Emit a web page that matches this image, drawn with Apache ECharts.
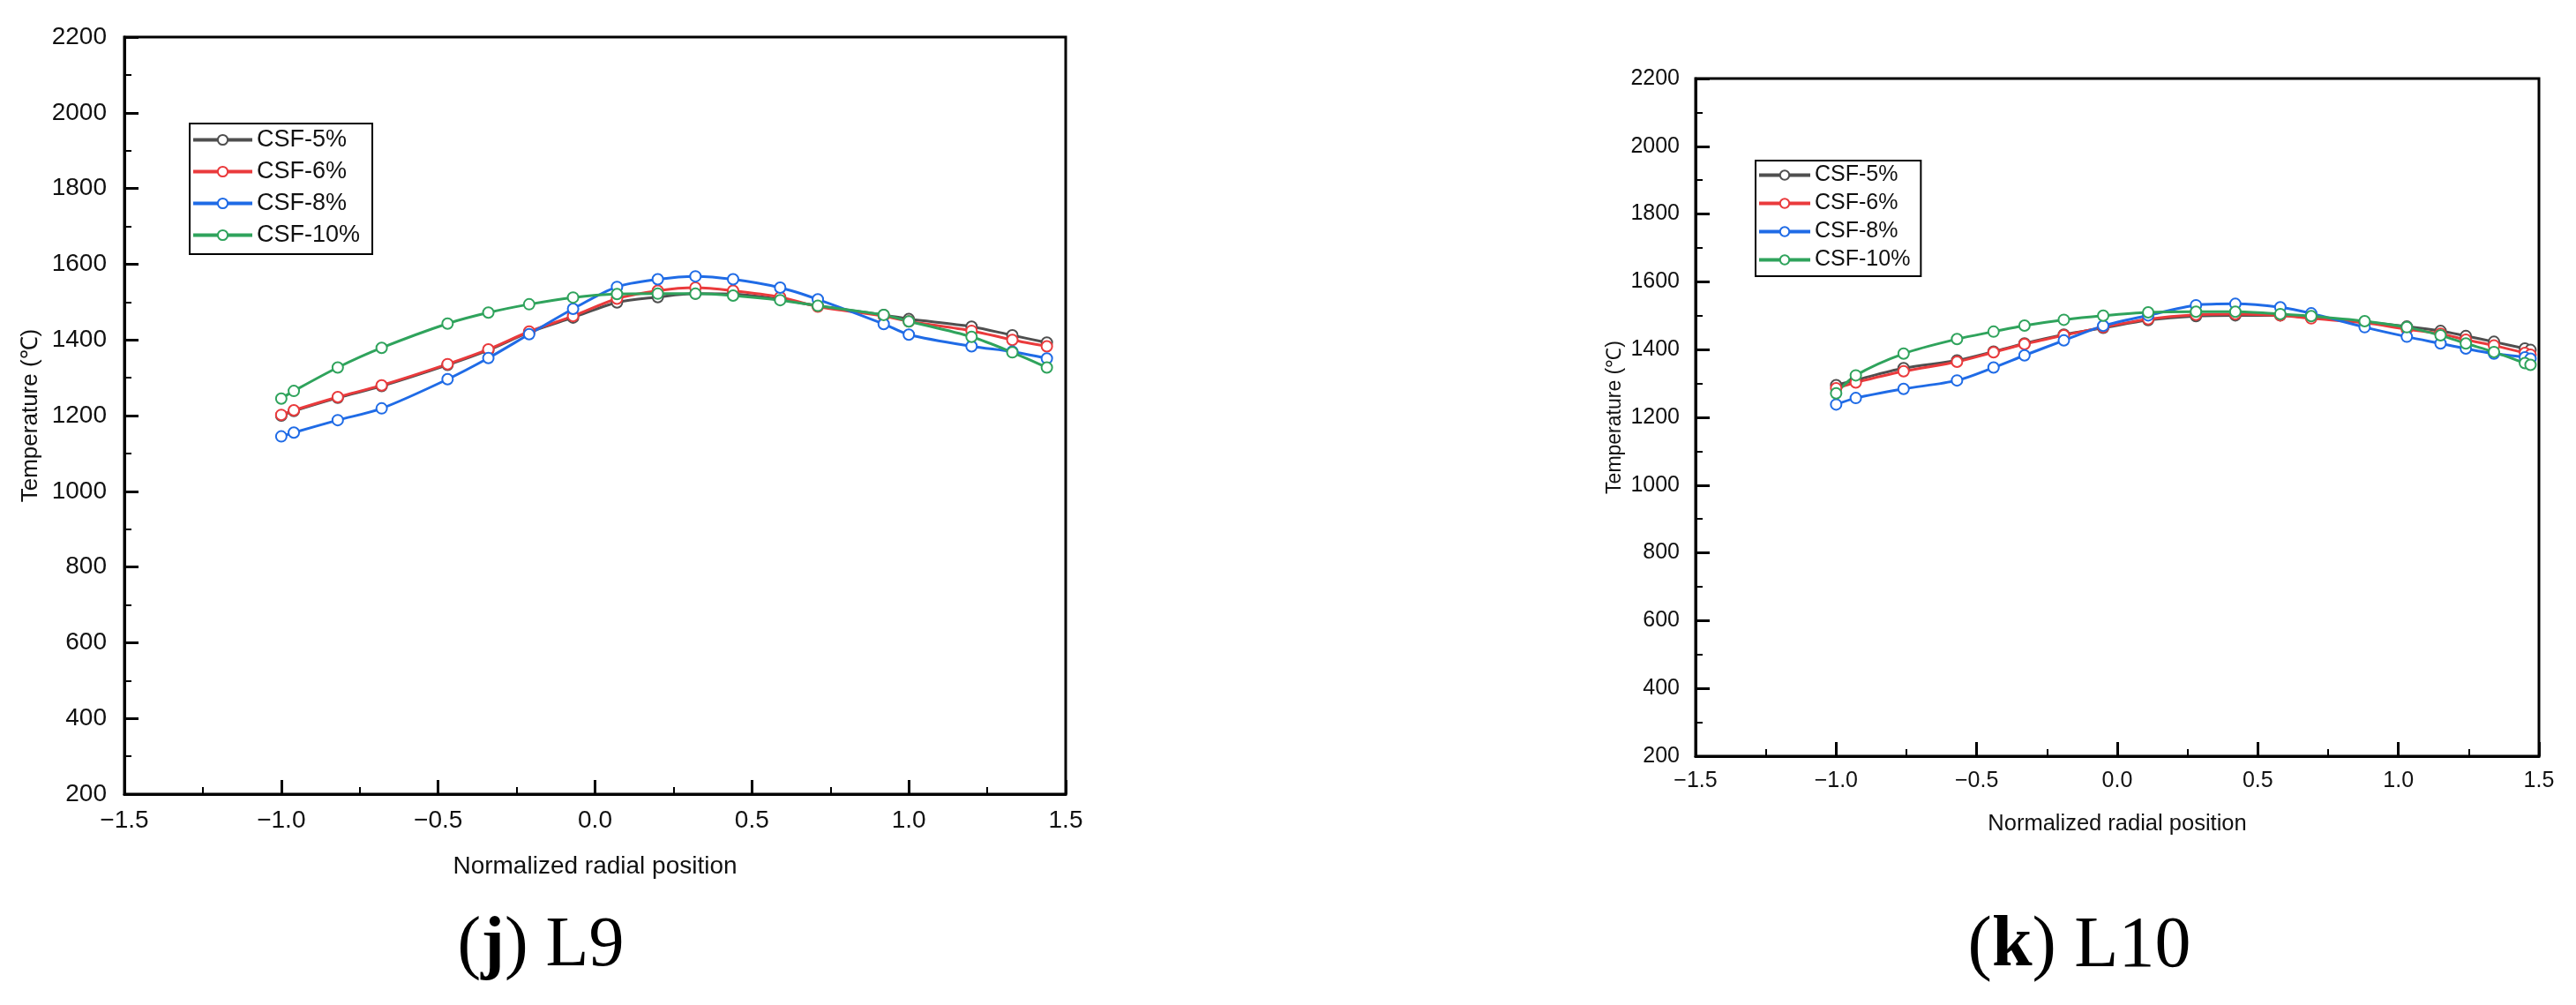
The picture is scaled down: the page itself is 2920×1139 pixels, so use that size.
<!DOCTYPE html>
<html>
<head>
<meta charset="utf-8">
<script src="https://cdn.jsdelivr.net/npm/echarts@6/dist/echarts.min.js"></script>
<style>
  html, body { margin: 0; padding: 0; background: #fff; }
  #chart { width: 2920px; height: 1139px; }
</style>
</head>
<body>
<div id="chart"></div>
<script>
// series names
var seriesNames = ["CSF-5%", "CSF-6%", "CSF-8%", "CSF-10%"];
var seriesColors = ["#4f4f4f", "#ea3a3c", "#1f6be6", "#2fa35c"];

// (j) L9 - radial positions and temperatures
var xL9 = [-1.0, -0.96, -0.82, -0.68, -0.47, -0.34, -0.21, -0.07, 0.07, 0.2, 0.32, 0.44, 0.59, 0.71, 0.92, 1.0, 1.2, 1.33, 1.44];
var l9Csf5 = [1200, 1212, 1247, 1278, 1334, 1373, 1420, 1459, 1499, 1513, 1522, 1521, 1507, 1490, 1466, 1455, 1435, 1412, 1393];
var l9Csf6 = [1202, 1214, 1249, 1280, 1336, 1375, 1422, 1463, 1509, 1530, 1538, 1530, 1513, 1488, 1463, 1449, 1424, 1400, 1383];
var l9Csf8 = [1145, 1155, 1188, 1219, 1296, 1352, 1415, 1482, 1540, 1560, 1568, 1560, 1538, 1507, 1442, 1414, 1383, 1369, 1351];
var l9Csf10 = [1245, 1265, 1327, 1379, 1443, 1472, 1494, 1512, 1521, 1522, 1522, 1517, 1505, 1490, 1466, 1449, 1408, 1367, 1327];

// (k) L10
var xL10 = [-1.0, -0.93, -0.76, -0.57, -0.44, -0.33, -0.19, -0.05, 0.11, 0.28, 0.42, 0.58, 0.69, 0.88, 1.03, 1.15, 1.24, 1.34, 1.45, 1.47];
var l10Csf5 = [1295, 1310, 1345, 1368, 1394, 1418, 1444, 1464, 1487, 1499, 1501, 1501, 1494, 1481, 1468, 1455, 1440, 1423, 1403, 1399];
var l10Csf6 = [1286, 1303, 1336, 1364, 1392, 1416, 1442, 1466, 1490, 1503, 1505, 1501, 1492, 1479, 1460, 1447, 1429, 1412, 1390, 1385];
var l10Csf8 = [1238, 1257, 1284, 1309, 1347, 1383, 1427, 1470, 1501, 1531, 1535, 1525, 1507, 1466, 1438, 1418, 1403, 1388, 1377, 1373];
var l10Csf10 = [1271, 1324, 1388, 1431, 1453, 1471, 1488, 1500, 1510, 1512, 1512, 1505, 1499, 1484, 1466, 1442, 1418, 1393, 1360, 1355];

var captions = ["L9", "L10"];
var captionLetters = ["j", "k"];

var font = "'Liberation Sans', Arial, sans-serif";

function zip(xs, ys) {
  return xs.map(function (x, i) { return [x, ys[i]]; });
}

function xFmt(v) {
  return (v < 0 ? "\u2212" : "") + Math.abs(v).toFixed(1);
}

function makeX(idx, fs, nameGap, nameFs) {
  return {
    gridIndex: idx,
    type: "value",
    min: -1.5,
    max: 1.5,
    interval: 0.5,
    name: "Normalized radial position",
    nameLocation: "middle",
    nameGap: nameGap,
    nameTextStyle: { fontFamily: font, fontSize: nameFs, color: "#111" },
    axisLine: { onZero: false, lineStyle: { color: "#000", width: 3 } },
    axisTick: { inside: true, length: 16, lineStyle: { color: "#000", width: 3 } },
    minorTick: { show: true, splitNumber: 2, length: 8, lineStyle: { color: "#000", width: 2 } },
    splitLine: { show: false },
    axisLabel: { fontFamily: font, fontSize: fs, color: "#111", margin: 16, formatter: xFmt }
  };
}

function makeY(idx, fs, nameGap, nameFs, margin) {
  return {
    gridIndex: idx,
    type: "value",
    min: 200,
    max: 2200,
    interval: 200,
    name: "Temperature (\u2103)",
    nameLocation: "middle",
    nameGap: nameGap,
    nameTextStyle: { fontFamily: font, fontSize: nameFs, color: "#111" },
    axisLine: { onZero: false, lineStyle: { color: "#000", width: 3 } },
    axisTick: { inside: true, length: 16, lineStyle: { color: "#000", width: 3 } },
    minorTick: { show: true, splitNumber: 2, length: 8, lineStyle: { color: "#000", width: 2 } },
    splitLine: { show: false },
    axisLabel: {
      fontFamily: font, fontSize: fs, color: "#111", margin: margin,
      formatter: function (v) { return String(v); }
    }
  };
}

function makeSeries(idx, xs, ys, k) {
  return {
    name: seriesNames[k],
    type: "line",
    xAxisIndex: idx,
    yAxisIndex: idx,
    data: zip(xs, ys),
    smooth: 0.3,
    symbol: "circle",
    symbolSize: 12,
    lineStyle: { color: seriesColors[k], width: 3 },
    itemStyle: { color: "#fff", borderColor: seriesColors[k], borderWidth: 2 },
    emphasis: { disabled: true }
  };
}

var l9Sets = [l9Csf5, l9Csf6, l9Csf8, l9Csf10];
var l10Sets = [l10Csf5, l10Csf6, l10Csf8, l10Csf10];

var series = [];
l9Sets.forEach(function (ys, k) { series.push(makeSeries(0, xL9, ys, k)); });
l10Sets.forEach(function (ys, k) { series.push(makeSeries(1, xL10, ys, k)); });

var captionFont = "80px 'Liberation Serif', 'Times New Roman', serif";

var myChart = echarts.init(document.getElementById("chart"));
myChart.setOption({
  animation: false,
  grid: [
    { left: 141, top: 42, width: 1067, height: 858, show: true, borderColor: "#000", borderWidth: 3 },
    { left: 1922, top: 89, width: 956, height: 768, show: true, borderColor: "#000", borderWidth: 3 }
  ],
  xAxis: [makeX(0, 28, 68, 28), makeX(1, 25, 64, 25.5)],
  yAxis: [makeY(0, 28, 93, 26, 20), makeY(1, 25, 80, 23, 18)],
  legend: [
    {
      data: seriesNames,
      orient: "vertical",
      left: 215,
      top: 140,
      padding: [5, 14, 8, 2],
      itemWidth: 67,
      itemHeight: 14,
      itemGap: 9,
      borderColor: "#000",
      borderWidth: 2,
      lineStyle: { width: 4 },
      itemStyle: { borderWidth: 2 },
      textStyle: { fontFamily: font, fontSize: 27, lineHeight: 26, color: "#111" },
      selectedMode: false
    },
    {
      data: seriesNames,
      orient: "vertical",
      left: 1990,
      top: 182,
      padding: [4, 12, 6, 2],
      itemWidth: 58,
      itemHeight: 13,
      itemGap: 7,
      borderColor: "#000",
      borderWidth: 2,
      lineStyle: { width: 4 },
      itemStyle: { borderWidth: 2 },
      textStyle: { fontFamily: font, fontSize: 25, lineHeight: 24, color: "#111" },
      selectedMode: false
    }
  ],
  graphic: [
    {
      type: "text", x: 613, y: 1073,
      style: {
        text: "({b|" + captionLetters[0] + "}) " + captions[0],
        font: captionFont,
        fill: "#000", align: "center", verticalAlign: "middle",
        rich: { b: { fontWeight: "bold", fontSize: 80, fontFamily: "'Liberation Serif', serif" } }
      }
    },
    {
      type: "text", x: 2357, y: 1073,
      style: {
        text: "({b|" + captionLetters[1] + "}) " + captions[1],
        font: "82px 'Liberation Serif', 'Times New Roman', serif",
        fill: "#000", align: "center", verticalAlign: "middle",
        rich: { b: { fontWeight: "bold", fontSize: 82, fontFamily: "'Liberation Serif', serif" } }
      }
    }
  ],
  series: series
});
</script>
</body>
</html>
